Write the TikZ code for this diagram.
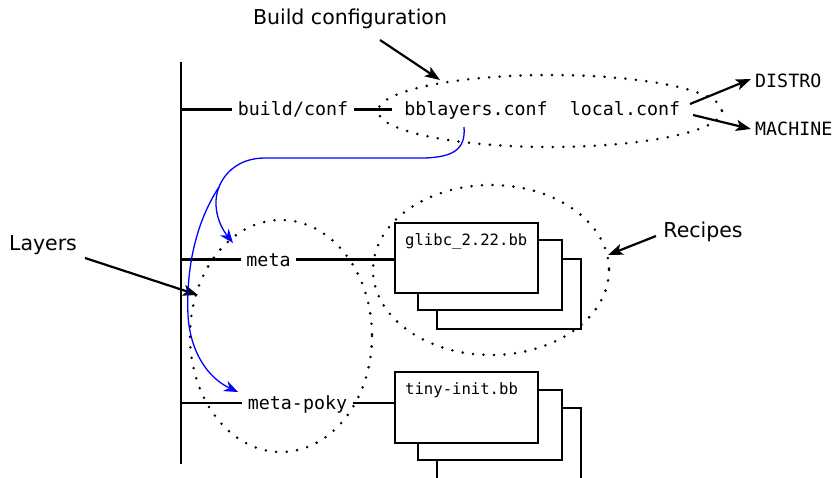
\documentclass[tikz,border=0pt]{standalone}
\usepackage{fontspec}
\setmainfont{DejaVu Sans}
\setmonofont{DejaVu Sans Mono}
\usetikzlibrary{arrows.meta}
\begin{document}
\begin{tikzpicture}[x=1pt,y=-1pt,
  mono/.style={font=\ttfamily\fontsize{18.3}{22}\selectfont, inner sep=5.5pt, text height=13.5pt, text depth=0.5pt},
  boxtext/.style={font=\ttfamily\fontsize{15.6}{19}\selectfont, inner sep=0pt},
  label/.style={font=\fontsize{20.5}{24}\selectfont, inner sep=0pt},
  rule/.style={line width=2.3pt},
  pointer/.style={line width=2.2pt, -{Stealth[length=15pt,width=11pt,inset=3.5pt]}},
  link/.style={blue, line width=1.3pt},
  linkarrow/.style={link, -{Stealth[length=14pt,width=11pt,inset=4.5pt]}},
  dotted ring/.style={line width=2.8pt, line cap=round, dash pattern=on 0pt off 10.5pt},
  sheet/.style={draw, line width=2.3pt, fill=white}]
\useasboundingbox (0,0) rectangle (834,478);

% groupings
\draw[dotted ring] (550,111) ellipse [x radius=172, y radius=36];
\draw[dotted ring] (281,336) ellipse [x radius=91, y radius=116];
\draw[dotted ring] (491,270) ellipse [x radius=118, y radius=85];

% directory tree
\coordinate (top) at (181,62);
\coordinate (bottom) at (181,464);
\draw[line width=2.6pt] (top) -- (bottom);

\node[mono] (buildconf) at (293,109.5) {build/conf};
\node[mono] (bblayers) at (476,109.5) {bblayers.conf};
\node[mono] (localconf) at (625,109.5) {local.conf};
\node[mono] (meta) at (268.5,259.5) {meta};
\node[mono] (metapoky) at (297.5,403) {meta-poky};

\draw[rule] (buildconf.west -| top) -- (buildconf.west);
\draw[rule] (buildconf.east) -- ++(38,0) coordinate (bbin);
\draw[rule] (meta.west -| top) -- (meta.west);
\draw[rule] (metapoky.west -| top) -- (metapoky.west);

% recipe sheets
\draw[sheet] (437,259) rectangle (581,329);
\draw[sheet] (418,240) rectangle (562,310);
\node[sheet, minimum width=143pt, minimum height=70pt, inner sep=0pt] (glibc) at (466.5,258) {};
\node[boxtext, anchor=base west] at (405,245) {glibc\_2.22.bb};

\draw[sheet] (437,408) rectangle (581,484);
\draw[sheet] (418,390) rectangle (562,460);
\node[sheet, minimum width=143pt, minimum height=71pt, inner sep=0pt] (tiny) at (466.5,407.5) {};
\node[boxtext, anchor=base west] at (405,394) {tiny-init.bb};

\draw[rule] (meta.east) -- (glibc.west |- meta.east);
\draw[rule] (metapoky.east) -- (tiny.west |- metapoky.east);

% configuration variables
\node[mono, anchor=west, inner sep=0pt] (distro) at (755,81.5) {DISTRO};
\node[mono, anchor=west, inner sep=0pt] (machine) at (755,129) {MACHINE};
\coordinate (lc1) at (690,104);
\coordinate (lc2) at (693,115);
\draw[pointer] (lc1) -- ([xshift=-4pt,yshift=2.5pt]distro.west);
\draw[pointer] (lc2) -- ([xshift=-4pt]machine.west);

% annotations
\node[label] (bcfg) at (350,19) {Build configuration};
\coordinate (bcfgtail) at (380,40);
\coordinate (bcfghead) at (440,80);
\draw[pointer] (bcfgtail) -- (bcfghead);

\node[label] (layers) at (43,245) {Layers};
\coordinate (layerstail) at (85,258);
\coordinate (layershead) at (198,295);
\draw[pointer] (layerstail) -- (layershead);

\node[label] (recipes) at (703,232) {Recipes};
\coordinate (recipestail) at (656,236);
\coordinate (recipeshead) at (608,255);
\draw[pointer] (recipestail) -- (recipeshead);

% bblayers.conf lists the layers
\coordinate (split) at (219,187);
\draw[link] (464,127) .. controls (466,150) and (452,157) .. (425,158)
  -- (265,158) .. controls (238,158) and (224,174) .. (split);
\draw[linkarrow] (split) .. controls (212,204) and (218,224) .. (233,243);
\draw[linkarrow] (split) .. controls (196,222) and (186,268) .. (188,315)
  .. controls (190,352) and (208,378) .. (238,392);
\end{tikzpicture}
\end{document}
